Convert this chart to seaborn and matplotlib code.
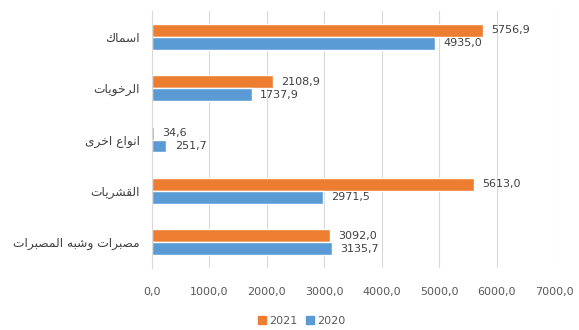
import matplotlib
matplotlib.use("Agg")
import matplotlib.pyplot as plt
import seaborn as sns
import pandas as pd

# ---- data ----
categories = ["اسماك", "الرخويات", "انواع اخرى", "القشريات", "مصبرات وشبه المصبرات"]
values_2021 = [5756.9, 2108.9, 34.6, 5613.0, 3092.0]
values_2020 = [4935.0, 1737.9, 251.7, 2971.5, 3135.7]
years = ["2021", "2020"]
x_ticks = [0, 1000, 2000, 3000, 4000, 5000, 6000, 7000]

# ---- minimal Arabic shaping (matplotlib has no shaping / bidi) ----
FORMS = {
    "ا": ("\uFE8D", "\uFE8E", None, None),
    "ب": ("\uFE8F", "\uFE90", "\uFE91", "\uFE92"),
    "ت": ("\uFE95", "\uFE96", "\uFE97", "\uFE98"),
    "خ": ("\uFEA5", "\uFEA6", "\uFEA7", "\uFEA8"),
    "ر": ("\uFEAD", "\uFEAE", None, None),
    "س": ("\uFEB1", "\uFEB2", "\uFEB3", "\uFEB4"),
    "ش": ("\uFEB5", "\uFEB6", "\uFEB7", "\uFEB8"),
    "ص": ("\uFEB9", "\uFEBA", "\uFEBB", "\uFEBC"),
    "ع": ("\uFEC9", "\uFECA", "\uFECB", "\uFECC"),
    "ق": ("\uFED5", "\uFED6", "\uFED7", "\uFED8"),
    "ك": ("\uFED9", "\uFEDA", "\uFEDB", "\uFEDC"),
    "ل": ("\uFEDD", "\uFEDE", "\uFEDF", "\uFEE0"),
    "م": ("\uFEE1", "\uFEE2", "\uFEE3", "\uFEE4"),
    "ن": ("\uFEE5", "\uFEE6", "\uFEE7", "\uFEE8"),
    "ه": ("\uFEE9", "\uFEEA", "\uFEEB", "\uFEEC"),
    "و": ("\uFEED", "\uFEEE", None, None),
    "ى": ("\uFEEF", "\uFEF0", None, None),
    "ي": ("\uFEF1", "\uFEF2", "\uFEF3", "\uFEF4"),
}


def shape_arabic(text):
    out = []
    for word in text.split(" "):
        chars = list(word)
        shaped = []
        for i, c in enumerate(chars):
            if c not in FORMS:
                shaped.append(c)
                continue
            iso, fin, ini, med = FORMS[c]
            prev = chars[i - 1] if i > 0 else None
            nxt = chars[i + 1] if i + 1 < len(chars) else None
            join_prev = prev is not None and prev in FORMS and FORMS[prev][2] is not None
            join_next = nxt is not None and nxt in FORMS and ini is not None
            if join_prev and join_next:
                shaped.append(med)
            elif join_prev:
                shaped.append(fin)
            elif join_next:
                shaped.append(ini)
            else:
                shaped.append(iso)
        out.append("".join(reversed(shaped)))
    return " ".join(reversed(out))


sns.set_theme(style="white")
plt.rcParams["font.family"] = ["DejaVu Sans"]

df = pd.DataFrame({
    "category": categories * 2,
    "value": values_2021 + values_2020,
    "year": [years[0]] * len(categories) + [years[1]] * len(categories),
})

colors = {"2021": "#ED7D31", "2020": "#5B9BD5"}

fig = plt.figure(figsize=(5.79, 3.30), dpi=100)
ax = fig.add_axes([152 / 579, 1 - 268 / 330, (554 - 152) / 579, (268 - 11) / 330])

sns.barplot(data=df, y="category", x="value", hue="year", hue_order=years,
            order=categories, orient="h", width=0.5, palette=colors,
            saturation=1, ax=ax, legend=False)

for cont in ax.containers:
    labs = [f"{v:.1f}".replace(".", ",") for v in cont.datavalues]
    ax.bar_label(cont, labels=labs, padding=6, fontsize=8, color="#404040")

ax.set_xlim(0, 7000)
ax.set_xticks(x_ticks)
ax.set_xticklabels([f"{t:.1f}".replace(".", ",") for t in x_ticks], fontsize=8, color="#595959")
ax.set_yticks(range(len(categories)))
ax.set_yticklabels([shape_arabic(c) for c in categories], fontsize=8.8, color="#404040")
ax.tick_params(axis="both", length=0)
ax.tick_params(axis="x", pad=14)
ax.tick_params(axis="y", pad=9)
ax.set_xlabel("")
ax.set_ylabel("")
ax.grid(axis="x", color="#D9D9D9", linewidth=0.8)
ax.set_axisbelow(True)
for s in ["top", "right", "bottom"]:
    ax.spines[s].set_visible(False)
ax.spines["left"].set_color("#D9D9D9")
ax.spines["left"].set_linewidth(0.8)

handles = [plt.Rectangle((0, 0), 1, 1, color=colors[y]) for y in years]
fig.legend(handles, years, loc="center", bbox_to_anchor=(302 / 579, 1 - 321 / 330),
           ncol=2, frameon=False, fontsize=8, handlelength=0.7, handleheight=0.7,
           handletextpad=0.3, columnspacing=0.8, labelcolor="#595959")

fig.savefig("out.png", dpi=100)
